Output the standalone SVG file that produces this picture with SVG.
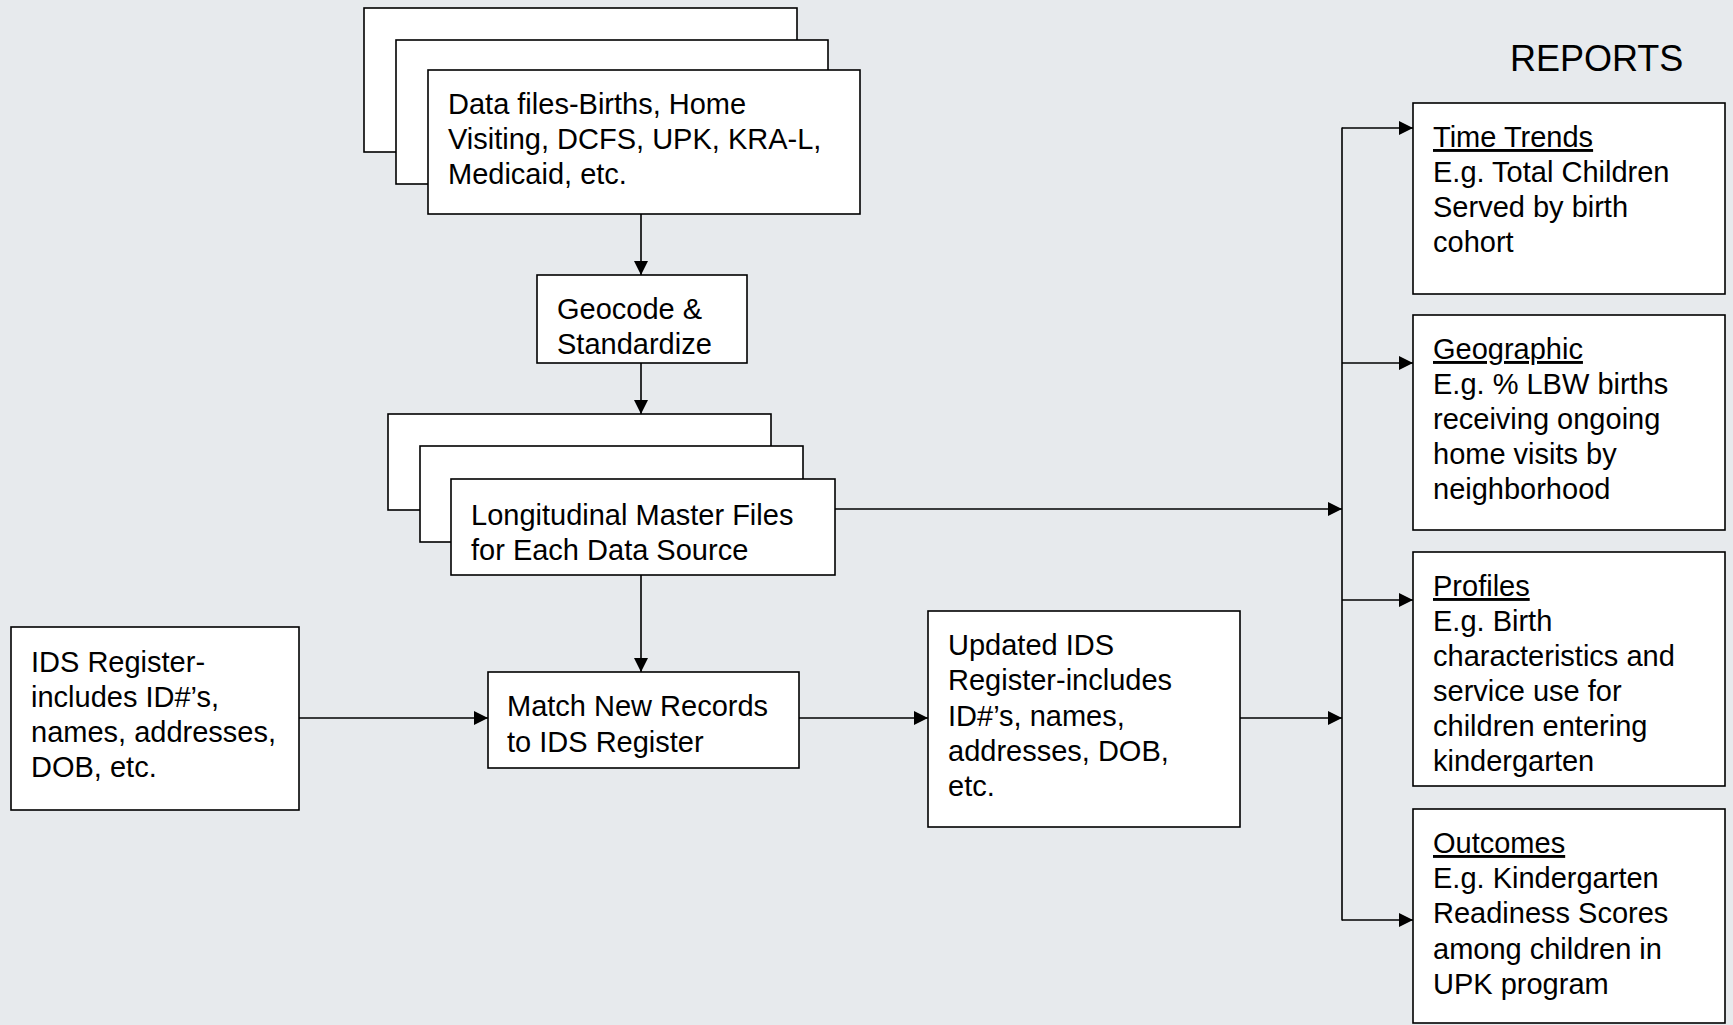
<svg xmlns="http://www.w3.org/2000/svg" width="1733" height="1025" viewBox="0 0 1733 1025">
<defs>
<marker id="ah" markerUnits="userSpaceOnUse" markerWidth="16" markerHeight="16" refX="14" refY="7" orient="auto">
<path d="M0,0 L14,7 L0,14 Z" fill="#000"/>
</marker>
<style>
.box{fill:#fff;stroke:#000;stroke-width:1.6}
.t{font-family:"Liberation Sans",Arial,sans-serif;font-size:29px;fill:#000}
.c{stroke:#000;stroke-width:1.6;fill:none}
.a{marker-end:url(#ah)}
</style>
</defs>
<rect width="1733" height="1025" fill="#e7eaed"/>
<g id="datafiles">
<rect class="box" x="364" y="8" width="433" height="144"/>
<rect class="box" x="396" y="40" width="432" height="144"/>
<rect class="box" x="428" y="70" width="432" height="144"/>
<text class="t" x="448" y="114">Data files-Births, Home</text>
<text class="t" x="448" y="149">Visiting, DCFS, UPK, KRA-L,</text>
<text class="t" x="448" y="184">Medicaid, etc.</text>
</g>
<g id="geocode">
<rect class="box" x="537" y="275" width="210" height="88"/>
<text class="t" x="557" y="319">Geocode &amp;</text>
<text class="t" x="557" y="354">Standardize</text>
</g>
<g id="longitudinal">
<rect class="box" x="388" y="414" width="383" height="96"/>
<rect class="box" x="420" y="446" width="383" height="96"/>
<rect class="box" x="451" y="479" width="384" height="96"/>
<text class="t" x="471" y="525">Longitudinal Master Files</text>
<text class="t" x="471" y="560">for Each Data Source</text>
</g>
<g id="idsregister">
<rect class="box" x="11" y="627" width="288" height="183"/>
<text class="t" x="31" y="672">IDS Register-</text>
<text class="t" x="31" y="707">includes ID#’s,</text>
<text class="t" x="31" y="742">names, addresses,</text>
<text class="t" x="31" y="777">DOB, etc.</text>
</g>
<g id="match">
<rect class="box" x="488" y="672" width="311" height="96"/>
<text class="t" x="507" y="716">Match New Records</text>
<text class="t" x="507" y="752">to IDS Register</text>
</g>
<g id="updated">
<rect class="box" x="928" y="611" width="312" height="216"/>
<text class="t" x="948" y="655">Updated IDS</text>
<text class="t" x="948" y="690">Register-includes</text>
<text class="t" x="948" y="726">ID#’s, names,</text>
<text class="t" x="948" y="761">addresses, DOB,</text>
<text class="t" x="948" y="796">etc.</text>
</g>
<g id="reports-title">
<text x="1510" y="71" style="font-family:'Liberation Sans',Arial,sans-serif;font-size:36px;fill:#000">REPORTS</text>
</g>
<g id="timetrends">
<rect class="box" x="1413" y="103" width="312" height="191"/>
<text class="t" x="1433" y="147" text-decoration="underline">Time Trends</text>
<text class="t" x="1433" y="182">E.g. Total Children</text>
<text class="t" x="1433" y="217">Served by birth</text>
<text class="t" x="1433" y="252">cohort</text>
</g>
<g id="geographic">
<rect class="box" x="1413" y="315" width="312" height="215"/>
<text class="t" x="1433" y="359" text-decoration="underline">Geographic</text>
<text class="t" x="1433" y="394">E.g. % LBW births</text>
<text class="t" x="1433" y="429">receiving ongoing</text>
<text class="t" x="1433" y="464">home visits by</text>
<text class="t" x="1433" y="499">neighborhood</text>
</g>
<g id="profiles">
<rect class="box" x="1413" y="552" width="312" height="234"/>
<text class="t" x="1433" y="596" text-decoration="underline">Profiles</text>
<text class="t" x="1433" y="631">E.g. Birth</text>
<text class="t" x="1433" y="666">characteristics and</text>
<text class="t" x="1433" y="701">service use for</text>
<text class="t" x="1433" y="736">children entering</text>
<text class="t" x="1433" y="771">kindergarten</text>
</g>
<g id="outcomes">
<rect class="box" x="1413" y="809" width="312" height="214"/>
<text class="t" x="1433" y="853" text-decoration="underline">Outcomes</text>
<text class="t" x="1433" y="888">E.g. Kindergarten</text>
<text class="t" x="1433" y="923">Readiness Scores</text>
<text class="t" x="1433" y="959">among children in</text>
<text class="t" x="1433" y="994">UPK program</text>
</g>
<g id="connectors">
<line class="c a" x1="641" y1="214" x2="641" y2="275"/>
<line class="c a" x1="641" y1="363" x2="641" y2="414"/>
<line class="c a" x1="641" y1="575" x2="641" y2="672"/>
<line class="c a" x1="299" y1="718" x2="488" y2="718"/>
<line class="c a" x1="799" y1="718" x2="928" y2="718"/>
<line class="c a" x1="835" y1="509" x2="1342" y2="509"/>
<line class="c a" x1="1240" y1="718" x2="1342" y2="718"/>
<line class="c" x1="1342" y1="127.5" x2="1342" y2="920.5"/>
<line class="c a" x1="1342" y1="128" x2="1413" y2="128"/>
<line class="c a" x1="1342" y1="363" x2="1413" y2="363"/>
<line class="c a" x1="1342" y1="600" x2="1413" y2="600"/>
<line class="c a" x1="1342" y1="920" x2="1413" y2="920"/>
</g>
</svg>
